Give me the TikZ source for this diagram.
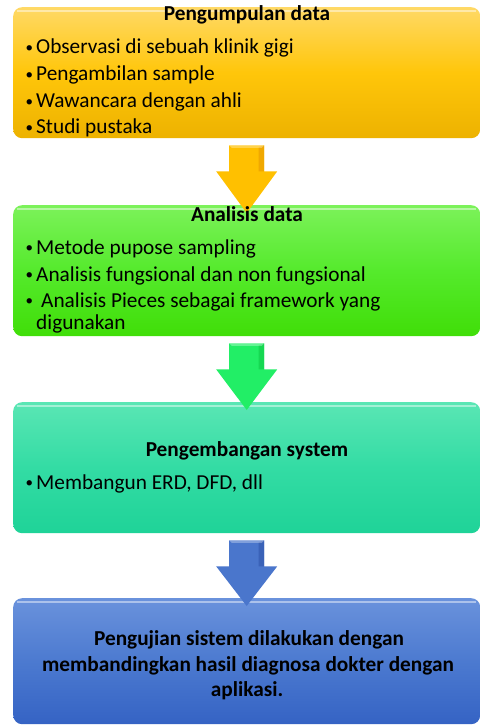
\documentclass[tikz,border=0pt]{standalone}
\usepackage{fontspec}
\setmainfont{Carlito}
\usetikzlibrary{calc}
\definecolor{yelA}{HTML}{FFD966}
\definecolor{yelB}{HTML}{FFC60A}
\definecolor{yelC}{HTML}{EDB200}
\definecolor{grnA}{HTML}{7CF25A}
\definecolor{grnB}{HTML}{55EA2C}
\definecolor{grnC}{HTML}{40DE08}
\definecolor{tealA}{HTML}{5AE6B4}
\definecolor{tealB}{HTML}{33DCA4}
\definecolor{tealC}{HTML}{1FD398}
\definecolor{bluA}{HTML}{6A92DC}
\definecolor{bluB}{HTML}{4C7AD0}
\definecolor{bluC}{HTML}{3563C4}
\definecolor{arY}{HTML}{FFC000}
\definecolor{arYd}{HTML}{F0A800}
\definecolor{arG}{HTML}{22EE66}
\definecolor{arGd}{HTML}{16D852}
\definecolor{arB}{HTML}{4A76CC}
\definecolor{arBd}{HTML}{3A62B8}
\tikzset{
  x=1pt,y=1pt,
  stagebox/.style={rounded corners=9pt, minimum width=467pt, inner sep=0pt, anchor=north west, draw=none},
  txt/.style={anchor=base west, inner sep=0pt, font=\fontsize{21.3}{24}\selectfont, text=black},
  ttl/.style={anchor=base, inner sep=0pt, font=\fontsize{21.3}{24}\selectfont\bfseries, text=black},
  gloss/.style={draw=white, draw opacity=0.45, line width=2pt, rounded corners=7pt},
}
\newcommand{\bdot}{\raisebox{1.5pt}{\fontsize{15}{15}\selectfont •}}
\newcommand{\blt}{\llap{\bdot\hspace{3pt}}}
\newcommand{\blockarrow}[4]{% from node, to node, fill, dark
  \fill[#3] ($(#1.south)+(-17.5,-7)$) -- ($(#1.south)+(17.5,-7)$) -- ($(#1.south)+(17.5,-33)$)
    -- ($(#1.south)+(30.5,-33)$) -- ($(#2.north)+(0,-8)$) -- ($(#1.south)+(-30.5,-33)$)
    -- ($(#1.south)+(-17.5,-33)$) -- cycle;
  \fill[#4] ($(#1.south)+(12,-9)$) -- ($(#1.south)+(17.5,-7)$) -- ($(#1.south)+(17.5,-33)$)
    -- ($(#1.south)+(12,-33)$) -- cycle;
  \fill[white, opacity=0.3] ($(#1.south)+(-17.5,-7)$) -- ($(#1.south)+(17.5,-7)$) -- ($(#1.south)+(15,-9.5)$) -- ($(#1.south)+(-15,-9.5)$) -- cycle;
}
\begin{document}
\begin{tikzpicture}
\useasboundingbox (0,0) rectangle (481,-727);
\fill[white] (0,0) rectangle (481,-727);
% boxes
\node[stagebox, minimum height=131pt, top color=yelA, bottom color=yelC, middle color=yelB] (b1) at (13,-7) {};
\node[stagebox, minimum height=131pt, top color=grnA, bottom color=grnC, middle color=grnB] (b2) at (13,-205) {};
\node[stagebox, minimum height=131pt, top color=tealA, bottom color=tealC, middle color=tealB] (b3) at (13,-402) {};
\node[stagebox, minimum height=126pt, top color=bluA, bottom color=bluC, middle color=bluB] (b4) at (13,-598) {};
\foreach \b in {b1,b2,b3,b4}{
  \draw[gloss] ($(\b.north west)+(4,-4)$) -- ($(\b.north east)+(-4,-4)$);
}
% arrows
\blockarrow{b1}{b2}{arY}{arYd}
\blockarrow{b2}{b3}{arG}{arGd}
\blockarrow{b3}{b4}{arB}{arBd}
% box 1 text
\node[ttl] (t1) at (247,-21) {Pengumpulan data};
\node[txt] (l11) at (36,-54) {\blt Observasi di sebuah klinik gigi};
\node[txt] (l12) at (36,-81) {\blt Pengambilan sample};
\node[txt] (l13) at (36,-108) {\blt Wawancara dengan ahli};
\node[txt] (l14) at (36,-134) {\blt Studi pustaka};
% box 2 text
\node[ttl] (t2) at (247,-222) {Analisis data};
\node[txt] (l21) at (36,-254) {\blt Metode pupose sampling};
\node[txt] (l22) at (36,-281) {\blt Analisis fungsional dan non fungsional};
\node[txt] (l23) at (41,-307) {\llap{\bdot\hspace{8pt}}Analisis Pieces sebagai framework yang};
\node[txt] (l24) at (36,-329) {digunakan};
% box 3 text
\node[ttl] (t3) at (247,-456) {Pengembangan system};
\node[txt] (l31) at (36,-489) {\blt Membangun ERD, DFD, dll};
% box 4 text
\node[ttl] (t41) at (249,-645) {Pengujian sistem dilakukan dengan};
\node[ttl] (t42) at (248,-671) {membandingkan hasil diagnosa dokter dengan};
\node[ttl] (t43) at (247,-696) {aplikasi.};
\end{tikzpicture}
\end{document}
